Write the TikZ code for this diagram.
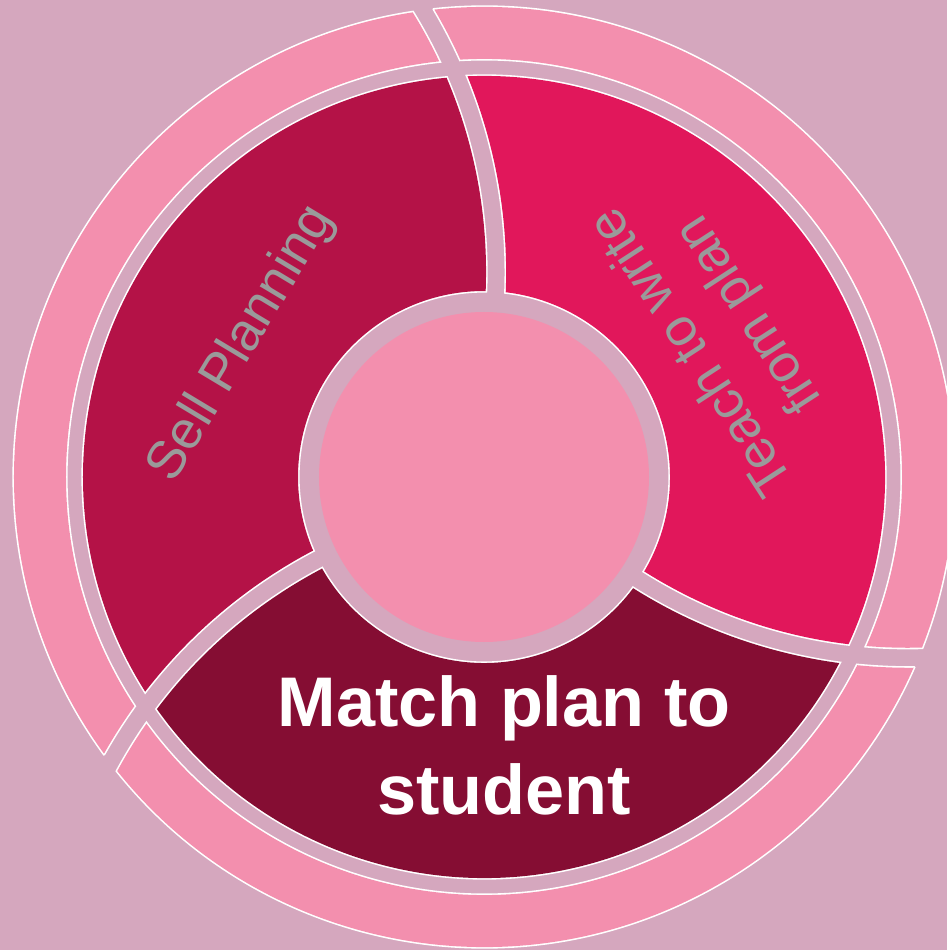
\documentclass[tikz,border=0pt]{standalone}
\usepackage{fontspec}
\setmainfont{Liberation Sans}

\definecolor{bgmauve}{HTML}{D5A7BE}
\definecolor{ringpink}{HTML}{F38FAE}
\definecolor{sellred}{HTML}{B41247}
\definecolor{teachred}{HTML}{E1175B}
\definecolor{matchred}{HTML}{850D33}
\definecolor{labelgray}{HTML}{9A9A9A}

% one piece of a ring, cut out between two curved spokes
% #1 inner radius, #2 outer radius, #3 colour, #4 extra border
\newcommand{\ringsector}[4]{%
  \begin{scope}[even odd rule]
    \clip (0,0) circle ({#2+#4})
        ({#1-#4},0) arc[start angle=0, end angle=-360, radius={#1-#4}];
    \clip (\spokeLead:\spokeDist) circle ({\spokeR-\halfGap+#4});
    \clip (-1500,-1500) -- (1500,-1500) -- (1500,1500) -- (-1500,1500) -- cycle
        (\spokeTrail:\spokeDist) ++({\spokeR+\halfGap-#4},0)
        arc[start angle=0, end angle=-360, radius={\spokeR+\halfGap-#4}];
    \fill[#3] (-600,-600) rectangle (600,600);
  \end{scope}}

\begin{document}
\begin{tikzpicture}[
    x=0.02cm, y=0.02cm,
    thinlabel/.style={text=labelgray, font=\fontsize{30.4}{38.5}\selectfont, align=center},
    boldlabel/.style={text=white, font=\fontsize{40}{50}\selectfont\bfseries, align=center},
]

% === Dimensions ===
\def\rCore{165}      % centre disc
\def\rIn{186}        % inner edge of the segments
\def\rOut{401}       % outer edge of the segments
\def\rRingIn{418}    % outer ring, inner edge
\def\rRingOut{470}   % outer ring, outer edge
\def\spokeDist{534}  % distance of a spoke's arc centre
\def\spokeR{505}     % radius of a spoke's arc
\def\halfGap{10}     % half width of a spoke
\def\spokeLead{157.4}
\def\spokeTrail{277.4}

\useasboundingbox (-484,-473) rectangle (463,477);
\clip (-484,-473) rectangle (463,477);
\fill[bgmauve] (-484,-473) rectangle (463,477);

% === Segments and outer ring pieces ===
\foreach \rot/\col in {0/sellred, -120/teachred, 120/matchred} {
  \begin{scope}[rotate=\rot]
    \ringsector{\rIn}{\rOut}{white}{1.6}
    \ringsector{\rIn}{\rOut}{\col}{0}
    \ringsector{\rRingIn}{\rRingOut}{white}{1.6}
    \ringsector{\rRingIn}{\rRingOut}{ringpink}{0}
  \end{scope}
}

% === Centre disc ===
\fill[ringpink] (0,0) circle (\rCore);

% === Labels ===
\node[thinlabel, rotate=59] (sell) at (-242,133) {Sell Planning};
\node[thinlabel, rotate=123] (teach) at (238,145) {Teach to write\\from plan};
\node[boldlabel] (match) at (20,-268) {Match plan to\\student};

\end{tikzpicture}
\end{document}
